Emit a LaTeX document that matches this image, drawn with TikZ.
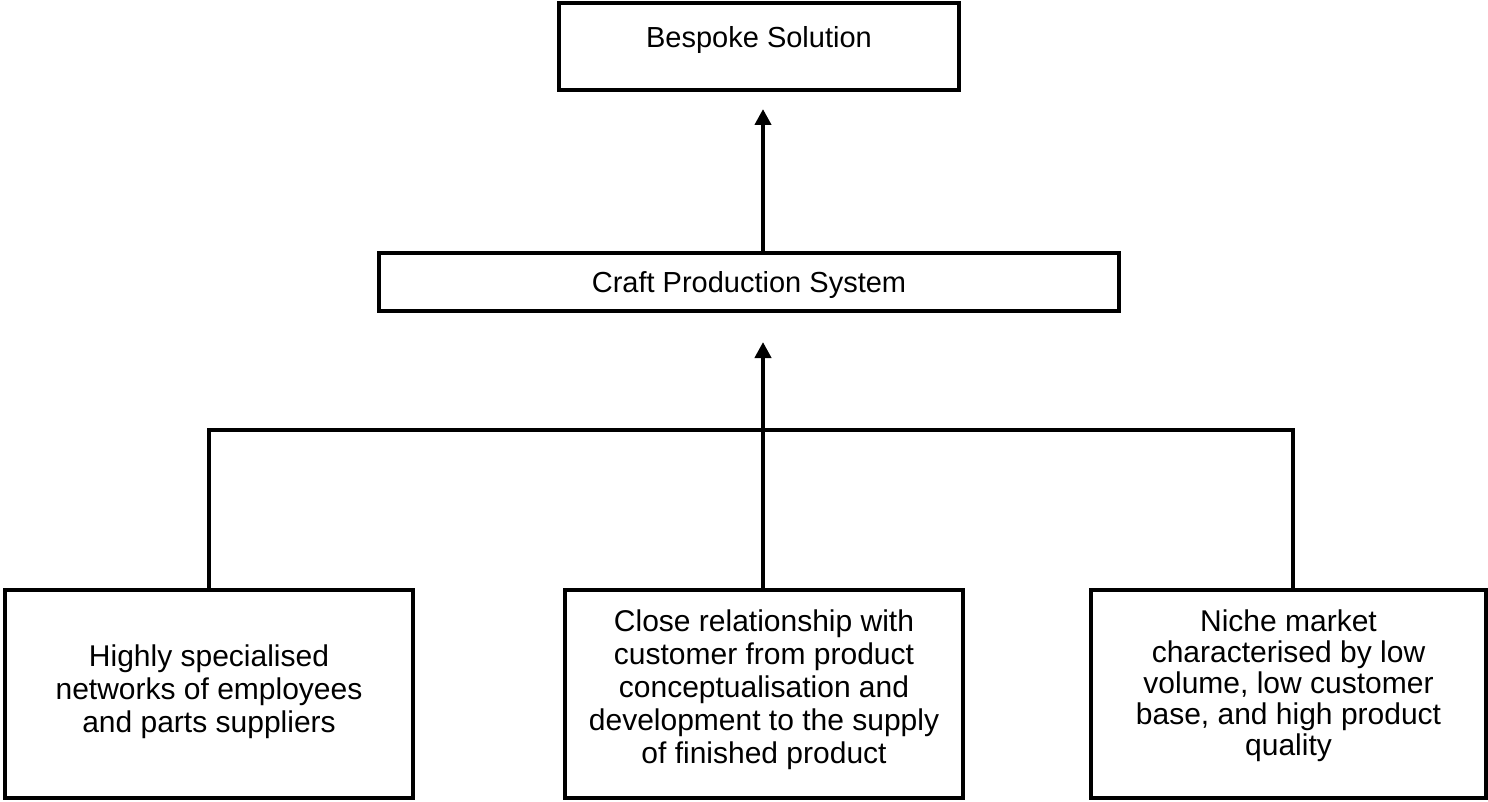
\documentclass[tikz,border=0pt]{standalone}
\usepackage{fontspec}
\setmainfont{Liberation Sans}
\usetikzlibrary{arrows.meta}
% invisible strut that adds depth below the last line of a box text
\newcommand{\lowpad}[1]{\rule[-#1]{0pt}{#1}}
\begin{document}
\begin{tikzpicture}[x=1pt,y=-1pt,
  box/.style={draw=black, line width=4pt, fill=white, inner sep=0pt,
    align=center, font=\fontsize{29}{32}\selectfont},
  bigbox/.style={box, font=\fontsize{30}{33}\selectfont},
  link/.style={line width=4pt},
  arrowlink/.style={line width=4pt, -{Triangle[width=16pt,length=16pt]}}]
\useasboundingbox (0,0) rectangle (1488,802);
% boxes
\node[box, minimum width=400pt, minimum height=87pt] (top) at (759,46.5)
  {\raisebox{-1.5pt}[0pt][0pt]{Bespoke Solution}};
\node[box, minimum width=740pt, minimum height=58pt] (mid) at (749,282)
  {\raisebox{-10.5pt}[0pt][0pt]{Craft Production System}};
\node[bigbox, minimum width=408pt, minimum height=208pt] (bl) at (209,694)
  {Highly specialised\\networks of employees\\and parts suppliers\lowpad{10pt}};
\node[bigbox, minimum width=398pt, minimum height=208pt] (bm) at (764,694)
  {Close relationship with\\customer from product\\conceptualisation and\\development to the supply\\of finished product\lowpad{14pt}};
\node[bigbox, font=\fontsize{30}{31}\selectfont, minimum width=395pt, minimum height=208pt] (br) at (1288.5,694)
  {Niche market\\characterised by low\\volume, low customer\\base, and high product\\quality\lowpad{22pt}};
% connector endpoints
\coordinate (tipA) at (763,109);
\coordinate (tipB) at (763,342);
\coordinate (barL) at (209,430);
\coordinate (barR) at (1293,430);
% arrows
\draw[arrowlink] (tipA |- mid.north) -- (tipA);
\draw[arrowlink] (tipB |- bm.north) -- (tipB);
% branch bar
\draw[link] (barL |- bl.north) -- (barL) -- (barR) -- (barR |- br.north);
\end{tikzpicture}
\end{document}
